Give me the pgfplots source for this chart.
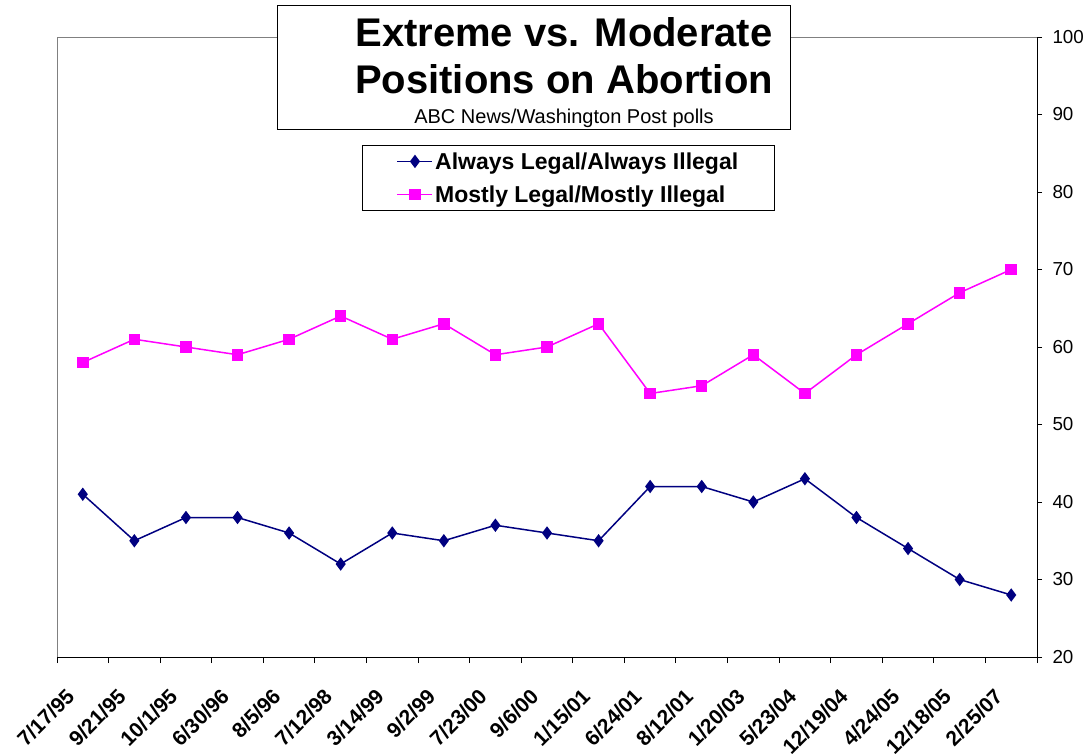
\documentclass[border=0pt]{standalone}
\usepackage{fontspec}
\setmainfont{Liberation Sans}
\usepackage{pgfplots}
\pgfplotsset{compat=1.18}
\definecolor{navyline}{HTML}{000080}
\definecolor{magline}{HTML}{FF00FF}
\definecolor{framegray}{HTML}{808080}

\begin{document}
\begin{tikzpicture}
\path[use as bounding box] (-57bp,-98bp) rectangle (1034bp,657bp);
\begin{axis}[
  at={(0,0)}, anchor=south west,
  scale only axis, width=980bp, height=620bp,
  xmin=0.5, xmax=19.5, ymin=20, ymax=100,
  axis x line=bottom, axis y line=right,
  axis line style={black, line width=1bp, -},
  axis background/.style={draw=framegray, line width=1bp},
  ytick={20,30,...,100},
  xtick={1,...,19},
  xticklabels={7/17/95,9/21/95,10/1/95,6/30/96,8/5/96,7/12/98,3/14/99,9/2/99,7/23/00,9/6/00,1/15/01,6/24/01,8/12/01,1/20/03,5/23/04,12/19/04,4/24/05,12/18/05,2/25/07},
  minor xtick={0.5,1.5,...,19.5},
  tick align=outside,
  major tick length=5bp, minor tick length=6bp,
  major x tick style={draw=none},
  minor x tick style={black, line width=1bp},
  y tick style={black, line width=1bp},
  xticklabel style={font=\fontsize{21bp}{25bp}\selectfont\bfseries, inner sep=0pt,
    xshift=-18bp, yshift=-25bp, rotate=45, anchor=north east},
  yticklabel style={font=\fontsize{18.8bp}{22bp}\selectfont, anchor=west, xshift=7bp},
  /pgf/number format/assume math mode=true,
  legend style={at={(0.5219,0.7726)}, anchor=center, draw=black, line width=1bp,
    font=\fontsize{23bp}{27bp}\selectfont\bfseries, inner xsep=34bp, inner ysep=5bp,
    row sep=11bp},
  legend cell align=left,
  /pgfplots/legend image code/.code={\draw[mark repeat=2,mark phase=2] plot coordinates {(0bp,0bp) (17.5bp,0bp) (35bp,0bp)};},
]
\addplot[navyline, line width=1.5bp, mark=diamond*, mark size=5.5bp, mark options={solid}] coordinates {
(1,41) (2,35) (3,38) (4,38) (5,36) (6,32) (7,36) (8,35) (9,37) (10,36)
(11,35) (12,42) (13,42) (14,40) (15,43) (16,38) (17,34) (18,30) (19,28)
};
\addlegendentry{Always Legal/Always Illegal}
\addplot[magline, line width=1.5bp, mark=square*, mark size=5bp, mark options={solid}] coordinates {
(1,58) (2,61) (3,60) (4,59) (5,61) (6,64) (7,61) (8,63) (9,59) (10,60)
(11,63) (12,54) (13,55) (14,59) (15,54) (16,59) (17,63) (18,67) (19,70)
};
\addlegendentry{Mostly Legal/Mostly Illegal}
\end{axis}
\node[draw=black, fill=white, line width=1bp, minimum width=513bp, minimum height=124bp,
  anchor=north west, inner sep=0pt] at (220bp,652bp) {};
\node[anchor=base, font=\fontsize{40bp}{47bp}\selectfont\bfseries] at (507bp,610bp) {Extreme vs. Moderate};
\node[anchor=base, font=\fontsize{40bp}{47bp}\selectfont\bfseries] at (507bp,563bp) {Positions on Abortion};
\node[anchor=base, font=\fontsize{20bp}{24bp}\selectfont] at (507bp,533bp) {ABC News/Washington Post polls};
\end{tikzpicture}
\end{document}
